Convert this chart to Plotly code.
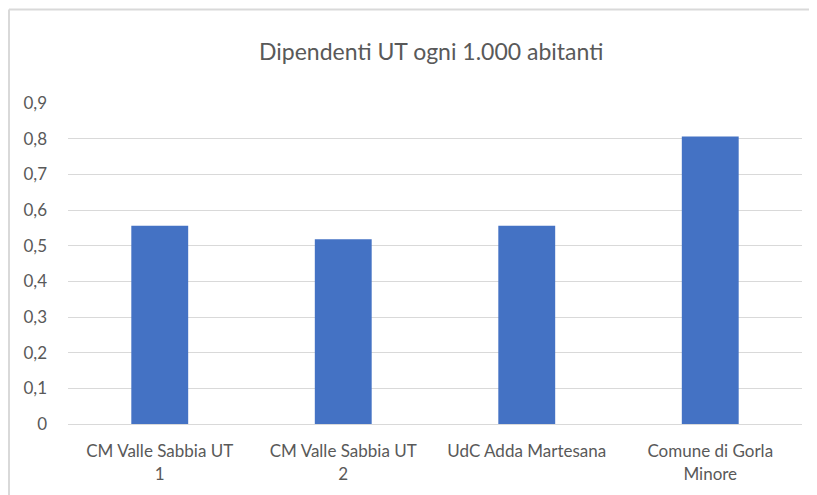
import plotly.graph_objects as go

# data
categories = ["CM Valle Sabbia UT<br>1", "CM Valle Sabbia UT<br>2",
              "UdC Adda Martesana", "Comune di Gorla<br>Minore"]
values = [0.556, 0.518, 0.556, 0.806]
y_ticks = [0, 0.1, 0.2, 0.3, 0.4, 0.5, 0.6, 0.7, 0.8, 0.9]
y_tick_labels = ["0", "0,1", "0,2", "0,3", "0,4", "0,5", "0,6", "0,7", "0,8", "0,9"]

GREY = "#595959"
GRID = "#d9d9d9"

W, H = 817, 495
L, T, R, B = 60, 95, 23, 79
PW, PH = W - L - R, H - T - B

fig = go.Figure(
    go.Bar(
        x=categories,
        y=values,
        marker=dict(color="#4472C4", line=dict(width=0)),
        width=0.31,
    )
)

fig.update_layout(
    width=W,
    height=H,
    margin=dict(l=L, r=R, t=T, b=B),
    paper_bgcolor="white",
    plot_bgcolor="white",
    font=dict(family="Lato, sans-serif", size=17, color=GREY),
    title=dict(
        text="Dipendenti UT ogni 1.000 abitanti",
        font=dict(size=23, color=GREY),
        x=0.518, xanchor="center",
        y=1 - 44 / H, yanchor="middle", yref="container",
    ),
    showlegend=False,
    xaxis=dict(
        showgrid=False,
        showline=True,
        linecolor=GRID,
        linewidth=1,
        tickangle=0,
        ticks="",
        ticklabelstandoff=12,
        automargin=False,
    ),
    yaxis=dict(
        range=[0, 0.9],
        tickvals=y_ticks,
        ticktext=y_tick_labels,
        showgrid=True,
        gridcolor=GRID,
        gridwidth=1,
        zeroline=False,
        showline=False,
        ticks="",
        ticklabelstandoff=20,
        automargin=False,
    ),
    shapes=[
        # chart border: left and top edges (the rest runs off the page)
        dict(type="line", xref="paper", yref="paper",
             x0=(1 - L) / PW, x1=(1 - L) / PW, y0=-0.5, y1=1 + (T - 1.5) / PH,
             line=dict(color=GRID, width=2)),
        dict(type="line", xref="paper", yref="paper",
             x0=(1 - L) / PW, x1=1.2, y0=1 + (T - 1.5) / PH, y1=1 + (T - 1.5) / PH,
             line=dict(color=GRID, width=2)),
    ],
)

# no scrollbars: the figure is meant to be cut by the window edge
fig.write_html("out.html", post_script="document.body.style.overflow='hidden';")
